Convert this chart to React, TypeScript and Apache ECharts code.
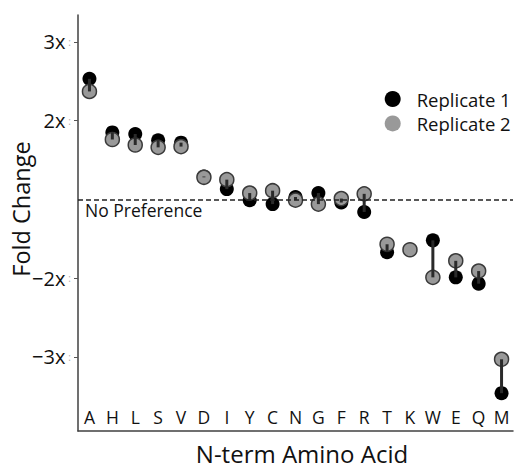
import React, { useEffect, useRef } from "react";
import * as echarts from "echarts";

const categories = ["A", "H", "L", "S", "V", "D", "I", "Y", "C", "N", "G", "F", "R", "T", "K", "W", "E", "Q", "M"];
const replicate1 = [1.53, 0.85, 0.83, 0.75, 0.72, 0.29, 0.13, -0.01, -0.06, 0.03, 0.08, -0.04, -0.16, -0.67, -0.64, -0.52, -0.99, -1.07, -2.46];
const replicate2 = [1.37, 0.76, 0.69, 0.66, 0.67, 0.28, 0.25, 0.08, 0.11, -0.01, -0.06, 0.01, 0.07, -0.57, -0.64, -0.99, -0.78, -0.91, -2.03];
const yTickValues = [-2, -1, 1, 2];
const yTickLabels: Record<string, string> = { "2": "3x", "1": "2x", "-1": "\u22122x", "-2": "\u22123x" };

const FONT = "Open Sans";

export default function App() {
  const ref = useRef<HTMLDivElement>(null);
  useEffect(() => {
    if (!ref.current) return;
    const chart = echarts.init(ref.current, undefined, { renderer: "svg" });
    const linkData = categories.map((_, i) => [i, replicate1[i], replicate2[i]]);
    chart.setOption({
      animation: false,
      textStyle: { fontFamily: FONT },
      grid: { left: 78, right: 1, top: 15, bottom: 38, containLabel: false, outerBoundsMode: "none" },
      legend: {
        orient: "vertical",
        left: 384.7,
        top: 89.5,
        padding: 0,
        itemWidth: 16,
        itemHeight: 16,
        itemGap: 5.4,
        icon: "circle",
        textStyle: { fontSize: 18.5, lineHeight: 18, color: "#111", fontFamily: FONT, padding: [0, 0, 0, 11] },
        data: [
          { name: "Replicate 1", itemStyle: { color: "#000", borderWidth: 0 } },
          { name: "Replicate 2", itemStyle: { color: "#999", borderWidth: 0 } },
        ],
      },
      xAxis: {
        type: "category",
        data: categories,
        boundaryGap: true,
        name: "N-term Amino Acid",
        nameLocation: "middle",
        nameGap: 10,
        nameMoveOverlap: false,
        nameTextStyle: { fontSize: 24, color: "#111", fontFamily: FONT, verticalAlign: "top", padding: [0, 0, 0, 13] },
        axisLine: { onZero: false, lineStyle: { color: "#404040", width: 1.5 } },
        axisTick: { show: false },
        axisLabel: { inside: true, margin: 5, fontSize: 17.5, color: "#111", fontFamily: FONT, interval: 0 },
        splitLine: { show: false },
      },
      yAxis: {
        type: "value",
        min: -2.94,
        max: 2.34,
        name: "Fold Change",
        nameLocation: "middle",
        nameGap: 45,
        nameMoveOverlap: false,
        nameTextStyle: { fontSize: 23.5, color: "#111", fontFamily: FONT, padding: [0, 0, 0, 28] },
        axisLine: { show: true, lineStyle: { color: "#404040", width: 1.5 } },
        axisTick: { show: true, length: 4, customValues: yTickValues, lineStyle: { color: "#555", width: 1 } },
        splitLine: { show: false },
        axisLabel: {
          margin: 7,
          customValues: yTickValues,
          hideOverlap: false,
          formatter: (v: number) => {
            const key = String(Math.round(v * 1000) / 1000);
            const t = yTickLabels[key];
            return t ? `{a|${t}}{b|:}` : "";
          },
          rich: {
            a: { fontSize: 20, color: "#111", fontFamily: FONT },
            b: { fontSize: 10, color: "#aaa", padding: [0, 0, 0, 3], fontFamily: FONT },
          },
        },
      },
      series: [
        {
          name: "Replicate 1",
          type: "scatter",
          z: 2,
          symbolSize: 14,
          itemStyle: { color: "#000", opacity: 1 },
          data: replicate1.map((v, i) => [i, v]),
        },
        {
          name: "Replicate 2",
          type: "scatter",
          z: 3,
          symbolSize: 14,
          itemStyle: { color: "#999", borderColor: "#3a3a3a", borderWidth: 1.5, opacity: 1 },
          data: replicate2.map((v, i) => [i, v]),
          markLine: {
            silent: true,
            symbol: "none",
            lineStyle: { type: [5, 3], color: "#222", width: 1.5 },
            label: {
              show: true,
              position: "insideStartBottom",
              formatter: "No Preference",
              fontSize: 17.5,
              color: "#111",
              fontFamily: FONT,
              distance: [7, 2],
            },
            data: [{ yAxis: 0 }],
          },
        },
        {
          type: "custom",
          z: 4,
          encode: { x: 0, y: [1, 2] },
          data: linkData,
          renderItem: (_params: any, api: any) => {
            const p1 = api.coord([api.value(0), api.value(1)]);
            const p2 = api.coord([api.value(0), api.value(2)]);
            return {
              type: "line",
              shape: { x1: p1[0], y1: p1[1], x2: p2[0], y2: p2[1] },
              style: { stroke: "#2a2a2a", lineWidth: 3 },
            };
          },
        },
      ],
    });
    return () => chart.dispose();
  }, []);
  return (
    <div
      ref={ref}
      style={{ position: "fixed", left: 0, top: 0, width: 514, height: 469, background: "#fff" }}
    />
  );
}
